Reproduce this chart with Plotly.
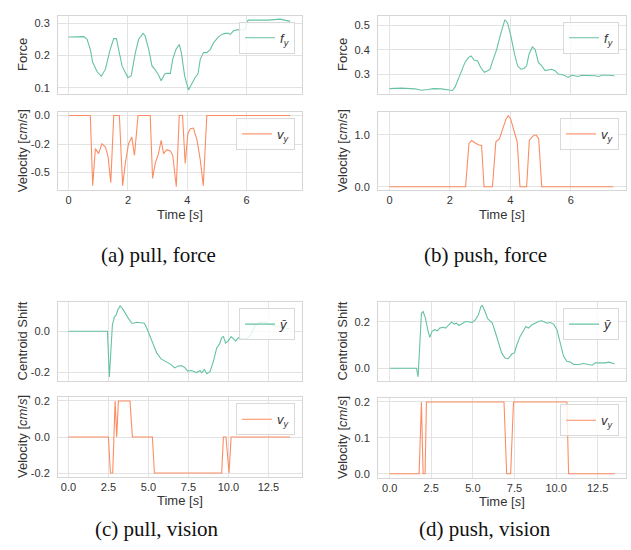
import plotly.graph_objects as go

# ---------------- data ----------------
# (a) pull, force
a_force = [(0, 0.257), (0.39, 0.259), (0.51, 0.258), (0.62, 0.25), (0.73, 0.219), (0.81, 0.179),
           (0.96, 0.15), (1.10, 0.136), (1.24, 0.158), (1.40, 0.219), (1.52, 0.252), (1.61, 0.252),
           (1.69, 0.219), (1.80, 0.168), (1.91, 0.148), (2.0, 0.132), (2.11, 0.138), (2.25, 0.209),
           (2.36, 0.25), (2.51, 0.268), (2.58, 0.26), (2.70, 0.219), (2.81, 0.168), (2.92, 0.156),
           (3.03, 0.14), (3.12, 0.122), (3.24, 0.143), (3.31, 0.145), (3.43, 0.145), (3.51, 0.189),
           (3.62, 0.219), (3.73, 0.234), (3.80, 0.209), (3.91, 0.138), (4.04, 0.094), (4.16, 0.117),
           (4.27, 0.133), (4.36, 0.143), (4.44, 0.189), (4.55, 0.209), (4.66, 0.209), (4.78, 0.219),
           (4.89, 0.24), (5.06, 0.258), (5.17, 0.265), (5.28, 0.268), (5.39, 0.268), (5.45, 0.265),
           (5.56, 0.276), (5.67, 0.279), (5.84, 0.279), (5.95, 0.28), (6.05, 0.309), (6.12, 0.309),
           (6.74, 0.309), (7.13, 0.312), (7.30, 0.309), (7.47, 0.305)]
a_vel = [(0, 0), (0.73, 0), (0.81, -0.616), (0.90, -0.29), (1.01, -0.334), (1.12, -0.247),
         (1.24, -0.276), (1.33, -0.363), (1.42, -0.59), (1.52, 0), (1.71, 0), (1.82, -0.616),
         (1.91, -0.42), (2.02, -0.247), (2.13, -0.189), (2.22, -0.349), (2.34, 0), (2.75, 0),
         (2.83, -0.552), (2.92, -0.42), (3.03, -0.334), (3.12, -0.218), (3.20, -0.334), (3.31, -0.30),
         (3.43, -0.311), (3.51, -0.349), (3.63, -0.625), (3.73, 0), (3.84, 0), (3.93, -0.42),
         (4.02, -0.16), (4.10, -0.116), (4.21, -0.11), (4.33, -0.218), (4.44, -0.392), (4.54, -0.616),
         (4.66, 0), (7.47, 0)]

# (b) push, force
b_force = [(0, 0.24), (0.4, 0.242), (0.84, 0.239), (1.06, 0.233), (1.28, 0.236), (1.45, 0.24),
           (1.72, 0.239), (1.97, 0.236), (2.08, 0.232), (2.17, 0.246), (2.33, 0.293), (2.5, 0.348),
           (2.61, 0.368), (2.70, 0.375), (2.81, 0.357), (2.92, 0.354), (3.02, 0.327), (3.14, 0.307),
           (3.25, 0.314), (3.33, 0.32), (3.40, 0.348), (3.55, 0.402), (3.69, 0.47), (3.82, 0.524),
           (3.91, 0.511), (4.02, 0.456), (4.13, 0.388), (4.24, 0.334), (4.35, 0.32), (4.46, 0.323),
           (4.54, 0.334), (4.62, 0.382), (4.73, 0.412), (4.82, 0.402), (4.93, 0.348), (5.04, 0.334),
           (5.15, 0.314), (5.26, 0.316), (5.37, 0.32), (5.48, 0.314), (5.59, 0.30), (5.76, 0.296),
           (5.92, 0.286), (6.03, 0.295), (6.14, 0.293), (6.25, 0.29), (6.36, 0.295), (6.59, 0.295),
           (6.81, 0.293), (6.92, 0.29), (7.03, 0.295), (7.25, 0.295), (7.45, 0.293)]
b_vel = [(0, 0), (2.52, 0), (2.63, 0.828), (2.72, 0.892), (2.83, 0.847), (2.94, 0.809), (3.05, 0.796),
         (3.13, 0), (3.41, 0), (3.52, 0.86), (3.64, 0.924), (3.75, 1.115), (3.86, 1.306), (3.93, 1.37),
         (4.01, 1.306), (4.12, 1.083), (4.23, 0.86), (4.32, 0), (4.54, 0), (4.63, 0.892), (4.74, 0.975),
         (4.85, 1.0), (4.94, 0.924), (5.04, 0), (7.41, 0)]

# (c) pull, vision
c_shift = [(0, 0), (2.44, 0), (2.56, -0.224), (2.67, -0.082), (2.75, 0.031), (2.88, 0.071), (2.98, 0.079),
           (3.08, 0.103), (3.23, 0.124), (3.38, 0.111), (3.54, 0.087), (3.75, 0.063), (3.96, 0.039),
           (4.06, 0.039), (4.27, 0.044), (4.54, 0.042), (4.75, 0.039), (4.90, 0.015), (5.10, -0.026),
           (5.31, -0.066), (5.52, -0.106), (5.79, -0.135), (6.0, -0.144), (6.21, -0.152), (6.42, -0.163),
           (6.63, -0.179), (6.83, -0.171), (7.04, -0.168), (7.25, -0.176), (7.46, -0.195), (7.67, -0.192),
           (7.88, -0.198), (8.02, -0.202), (8.23, -0.192), (8.33, -0.203), (8.5, -0.187), (8.65, -0.208),
           (8.85, -0.198), (9.06, -0.147), (9.27, -0.082), (9.44, -0.063), (9.58, -0.031), (9.69, -0.026),
           (9.83, -0.058), (10.0, -0.047), (10.17, -0.026), (10.31, -0.034), (10.46, -0.047),
           (10.63, -0.031), (10.83, -0.037), (11.04, -0.037), (11.25, -0.031), (11.46, -0.01),
           (11.67, 0.031), (11.98, 0.044), (12.29, 0.044), (12.81, 0.027), (13.33, 0.018), (13.85, 0.011)]
c_vel = [(0, 0), (2.5, 0), (2.625, -0.2), (2.77, -0.2), (2.92, 0.2), (3.02, 0), (3.125, 0.2), (3.85, 0.2),
         (4.0, 0), (5.25, 0), (5.375, -0.2), (9.58, -0.2), (9.69, 0), (9.85, 0), (10.04, -0.2),
         (10.17, 0), (13.85, 0)]

# (d) push, vision
d_shift = [(0, 0), (1.61, 0), (1.71, -0.037), (1.81, 0.13), (1.91, 0.237), (2.01, 0.244), (2.15, 0.216),
           (2.31, 0.159), (2.41, 0.133), (2.55, 0.159), (2.71, 0.166), (2.87, 0.161), (3.01, 0.173),
           (3.22, 0.176), (3.36, 0.173), (3.52, 0.184), (3.72, 0.199), (3.88, 0.19), (4.02, 0.194),
           (4.16, 0.184), (4.36, 0.194), (4.56, 0.201), (4.76, 0.199), (4.96, 0.197), (5.16, 0.209),
           (5.33, 0.23), (5.49, 0.266), (5.57, 0.27), (5.73, 0.244), (5.89, 0.213), (6.03, 0.204),
           (6.17, 0.194), (6.33, 0.159), (6.53, 0.109), (6.73, 0.066), (6.93, 0.044), (7.13, 0.041),
           (7.34, 0.061), (7.50, 0.066), (7.64, 0.101), (7.84, 0.137), (8.04, 0.161), (8.18, 0.18),
           (8.34, 0.173), (8.54, 0.187), (8.74, 0.194), (8.94, 0.201), (9.14, 0.204), (9.30, 0.199),
           (9.45, 0.194), (9.65, 0.197), (9.85, 0.19), (10.05, 0.166), (10.25, 0.101), (10.45, 0.051),
           (10.65, 0.03), (10.85, 0.027), (11.05, 0.016), (11.35, 0.016), (11.66, 0.02), (11.96, 0.016),
           (12.16, 0.013), (12.36, 0.023), (12.56, 0.023), (12.76, 0.02), (12.96, 0.023), (13.16, 0.026),
           (13.36, 0.023), (13.52, 0.019)]
d_vel = [(0, 0), (1.77, 0), (1.91, 0.2), (2.01, 0), (2.13, 0), (2.21, 0.2), (6.87, 0.2), (7.03, 0),
         (7.27, 0), (7.44, 0.2), (10.65, 0.2), (10.75, 0), (13.52, 0)]

captions = ["(a) pull, force", "(b) push, force", "(c) pull, vision", "(d) push, vision"]

# ---------------- layout helpers ----------------
W, H = 631, 550
GREEN = "#66c2a5"
ORANGE = "#fc8d62"
TXT = "#333333"
GRID = "#e3e3e3"
FRAME = "#d6d6d6"
SANS = "Liberation Sans, Arial, sans-serif"


def px(v):
    return v / W


def py(v):
    return 1 - v / H


xt_ab = [0, 2, 4, 6]
xt_ab_txt = ["0", "2", "4", "6"]
xt_cd = [0, 2.5, 5, 7.5, 10, 12.5]
xt_cd_txt = ["0.0", "2.5", "5.0", "7.5", "10.0", "12.5"]
vel_title = "Velocity [<i>cm</i>/<i>s</i>]"

subplots = [
    (a_force, GREEN, "<i>f<sub>y</sub></i>", "Force", (58, 302), (13, 92), [-0.36, 7.87], [0.081, 0.322],
     [0.1, 0.2, 0.3], ["0.1", "0.2", "0.3"], False, xt_ab, xt_ab_txt),
    (a_vel, ORANGE, "<i>v<sub>y</sub></i>", vel_title, (58, 302), (110, 189), [-0.36, 7.87], [-0.656, 0.031],
     [0, -0.25, -0.5], ["0.0", "-0.2", "-0.5"], True, xt_ab, xt_ab_txt),
    (b_force, GREEN, "<i>f<sub>y</sub></i>", "Force", (378, 626), (13, 92), [-0.38, 7.83], [0.217, 0.54],
     [0.3, 0.4, 0.5], ["0.3", "0.4", "0.5"], False, xt_ab, xt_ab_txt),
    (b_vel, ORANGE, "<i>v<sub>y</sub></i>", vel_title, (378, 626), (110, 189), [-0.38, 7.83], [-0.069, 1.44],
     [0, 1], ["0.0", "1.0"], True, xt_ab, xt_ab_txt),
    (c_shift, GREEN, "<i>ȳ</i>", "Centroid Shift", (58, 302), (302, 381), [-0.65, 14.6], [-0.241, 0.142],
     [-0.2, 0.0], ["-0.2", "0.0"], False, xt_cd, xt_cd_txt),
    (c_vel, ORANGE, "<i>v<sub>y</sub></i>", vel_title, (58, 302), (398, 478), [-0.65, 14.6], [-0.22, 0.22],
     [-0.2, 0.0, 0.2], ["-0.2", "0.0", "0.2"], True, xt_cd, xt_cd_txt),
    (d_shift, GREEN, "<i>ȳ</i>", "Centroid Shift", (378, 626), (302, 381), [-0.7, 14.2], [-0.053, 0.284],
     [0.0, 0.2], ["0.0", "0.2"], False, xt_cd, xt_cd_txt),
    (d_vel, ORANGE, "<i>v<sub>y</sub></i>", vel_title, (378, 626), (399, 479), [-0.7, 14.2], [-0.011, 0.21],
     [0.0, 0.1, 0.2], ["0.0", "0.1", "0.2"], True, xt_cd, xt_cd_txt),
]

fig = go.Figure()
layout = dict(
    width=W, height=H, margin=dict(l=0, r=0, t=0, b=0),
    paper_bgcolor="white", plot_bgcolor="white",
    font=dict(family=SANS, size=11, color=TXT),
    showlegend=True,
)
annotations = []

for i, (pts, col, leg, ytitle, xpx, ypx, xr, yr, yt, ytt, showx, xt, xtt) in enumerate(subplots):
    n = i + 1
    xs = [p[0] for p in pts]
    ys = [p[1] for p in pts]
    legname = "legend" if n == 1 else f"legend{n}"
    fig.add_trace(go.Scatter(
        x=xs, y=ys, mode="lines", name=leg, line=dict(color=col, width=1.1),
        xaxis=f"x{n}", yaxis=f"y{n}", legend=legname, showlegend=True,
    ))
    xkey = "xaxis" if n == 1 else f"xaxis{n}"
    ykey = "yaxis" if n == 1 else f"yaxis{n}"
    layout[xkey] = dict(
        domain=[px(xpx[0]), px(xpx[1])], anchor=f"y{n}", range=xr,
        tickmode="array", tickvals=xt, ticktext=xtt, showticklabels=showx,
        showgrid=True, gridcolor=GRID, gridwidth=1, zeroline=False,
        showline=True, linecolor=FRAME, linewidth=1, mirror=True,
        ticks="", ticklen=0,
        tickfont=dict(family=SANS, size=11, color=TXT),
    )
    layout[ykey] = dict(
        domain=[py(ypx[1]), py(ypx[0])], anchor=f"x{n}", range=yr,
        tickmode="array", tickvals=yt, ticktext=ytt,
        showgrid=True, gridcolor=GRID, gridwidth=1, zeroline=False,
        showline=True, linecolor=FRAME, linewidth=1, mirror=True,
        ticks="outside", ticklen=5, tickcolor="rgba(0,0,0,0)",
        tickfont=dict(family=SANS, size=11, color=TXT),
    )
    layout[legname] = dict(
        x=px(xpx[1] - 7), y=py(ypx[0] + 6), xanchor="right", yanchor="top",
        xref="paper", yref="paper",
        bgcolor="rgba(255,255,255,0.8)", bordercolor="#d9d9d9", borderwidth=1,
        font=dict(family=SANS, size=13, color=TXT), itemwidth=30,
        tracegroupgap=0,
    )
    annotations.append(dict(
        text=ytitle, x=px(xpx[0] - 36), y=py((ypx[0] + ypx[1]) / 2), xref="paper", yref="paper",
        textangle=-90, showarrow=False, xanchor="center", yanchor="middle",
        font=dict(family=SANS, size=13, color=TXT),
    ))
    if showx:
        annotations.append(dict(
            text="Time [<i>s</i>]", x=px((xpx[0] + xpx[1]) / 2), y=py(ypx[1] + 24),
            xref="paper", yref="paper", showarrow=False, xanchor="center", yanchor="middle",
            font=dict(family=SANS, size=13, color=TXT),
        ))

cap_pos = [(158, 254), (485, 254), (157, 531), (485, 531)]
for txt, (cx, cy) in zip(captions, cap_pos):
    annotations.append(dict(
        text=txt, x=px(cx), y=py(cy), xref="paper", yref="paper", showarrow=False,
        xanchor="center", yanchor="middle",
        font=dict(family="Liberation Serif, Times New Roman, serif", size=21, color="#111111"),
    ))

layout["annotations"] = annotations
fig.update_layout(**layout)
fig.write_html("out.html")
